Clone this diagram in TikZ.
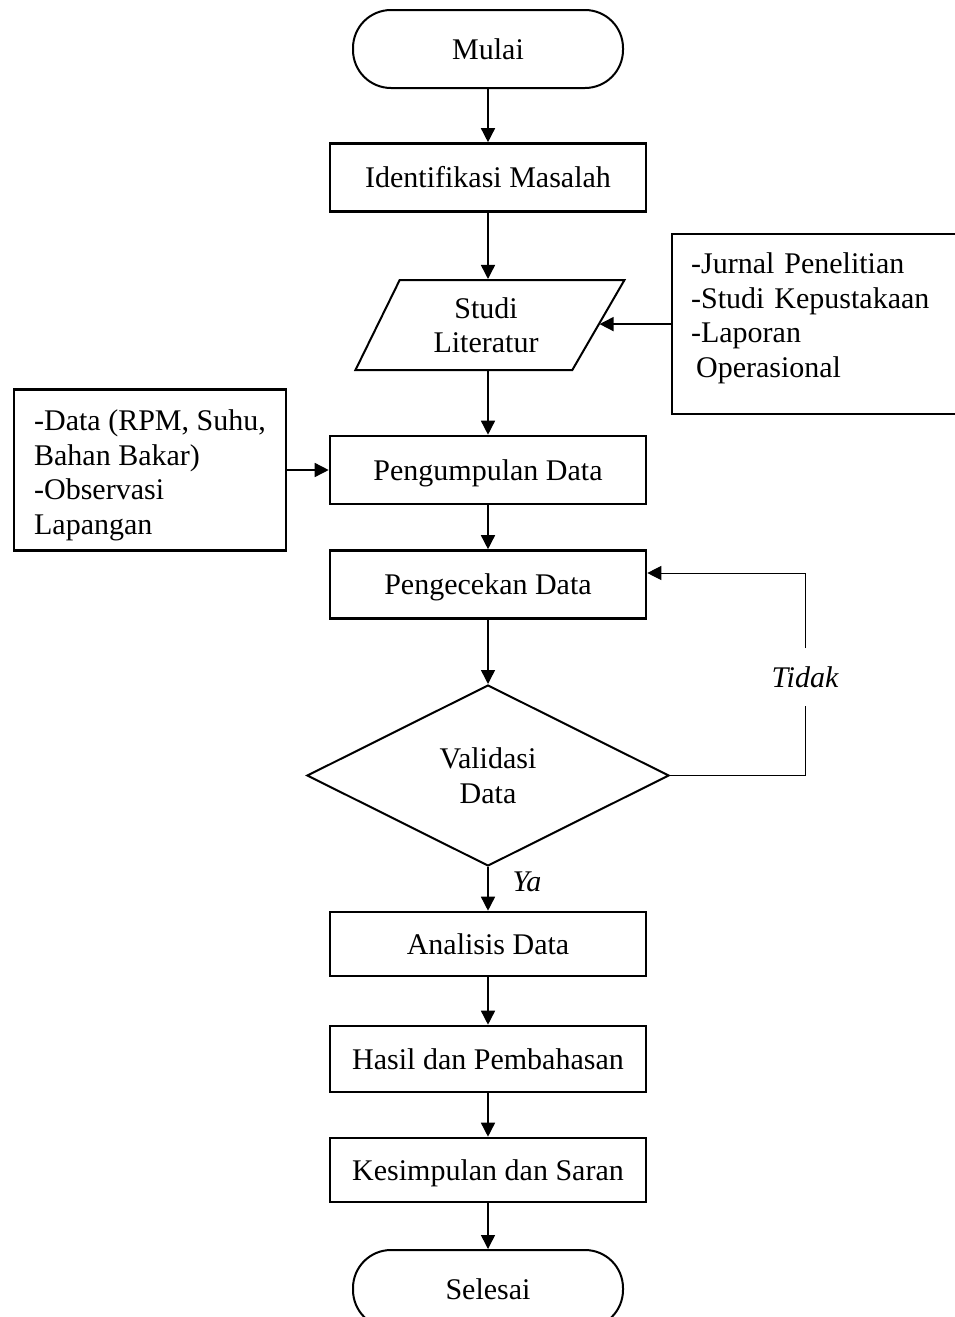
\documentclass[tikz,border=0pt]{standalone}
\usepackage{fontspec}
\setmainfont{Liberation Serif}
\usetikzlibrary{arrows.meta,shapes.geometric}

\begin{document}
\begin{tikzpicture}[x=0.5pt,y=-0.5pt,
  every node/.style={font=\fontsize{15}{17.25}\selectfont},
  proses/.style={draw,line width=1.3pt,minimum width=158pt,minimum height=34pt,inner sep=0pt,
    text height=11pt,text depth=1pt},
  terminal/.style={draw,line width=1pt,rounded corners=19pt,minimum width=135pt,minimum height=39pt},
  masukan/.style={draw,line width=1pt,trapezium,trapezium left angle=63,trapezium right angle=121,
    trapezium stretches body,minimum width=134.5pt,minimum height=45pt,align=center,
    inner xsep=0pt,inner ysep=7.8pt},
  keputusan/.style={draw,line width=1pt,diamond,aspect=2,minimum width=181pt,minimum height=90.5pt,
    align=center,inner sep=0pt},
  catatan/.style={draw,line width=1.1pt,align=left},
  keterangan/.style={font=\fontsize{15}{17.25}\selectfont\itshape},
  panah/.style={line width=0.75pt,-{Triangle[length=7pt,width=7pt]}}]
  \useasboundingbox (0,0) rectangle (954,1317);

  \node[terminal] (mulai) at (488,49) {Mulai};
  \node[proses] (identifikasi) at (488,177.5) {Identifikasi Masalah};
  \node[masukan] (literatur) at (486,325) {Studi\\Literatur};
  \node[catatan,anchor=north west,text width=160pt,inner xsep=9.5pt,minimum height=90pt] (referensi) at (671,233)
    {-Jurnal Penelitian\\-Studi Kepustakaan\\-Laporan\\\hspace{2.5pt}Operasional\\[-8.25pt]\mbox{}};
  \node[catatan,minimum width=136pt,minimum height=80.5pt] (lapangan) at (150,470)
    {\rule{0pt}{15.5pt}-Data (RPM, Suhu,\\Bahan Bakar)\\-Observasi\\Lapangan};
  \node[proses] (pengumpulan) at (488,470) {Pengumpulan Data};
  \node[proses] (pengecekan) at (488,584.5) {Pengecekan Data};
  \node[keputusan] (validasi) at (488,775.5) {Validasi\\Data};
  \node[proses,minimum height=32pt] (analisis) at (488,944) {Analisis Data};
  \node[proses,minimum height=33pt] (hasil) at (488,1059) {Hasil dan Pembahasan};
  \node[proses,minimum height=32pt] (kesimpulan) at (488,1170) {Kesimpulan dan Saran};
  \node[terminal] (selesai) at (488,1289) {Selesai};

  \node[keterangan,inner ysep=9pt] (tidak) at (805,677) {Tidak};
  \node[keterangan] (ya) at (527,882) {Ya};
  \coordinate (belokB) at (805,775.5);
  \coordinate (belokA) at (805,573);

  \draw[panah] (mulai) -- (identifikasi);
  \draw[panah] (identifikasi) -- (identifikasi |- literatur.north);
  \draw[panah] (referensi.west) -- (referensi.west -| literatur.east);
  \draw[panah] (identifikasi |- literatur.south) -- (pengumpulan);
  \draw[panah] (lapangan) -- (pengumpulan);
  \draw[panah] (pengumpulan) -- (pengecekan);
  \draw[panah] (pengecekan) -- (validasi);
  \draw[line width=0.5pt] (validasi.east) -- (belokB) -- (tidak.south);
  \draw[panah,line width=0.5pt] (tidak.north) -- (belokA) -- (belokA -| pengecekan.east);
  \draw[panah] (validasi) -- (analisis);
  \draw[panah] (analisis) -- (hasil);
  \draw[panah] (hasil) -- (kesimpulan);
  \draw[panah] (kesimpulan) -- (selesai);
\end{tikzpicture}
\end{document}
